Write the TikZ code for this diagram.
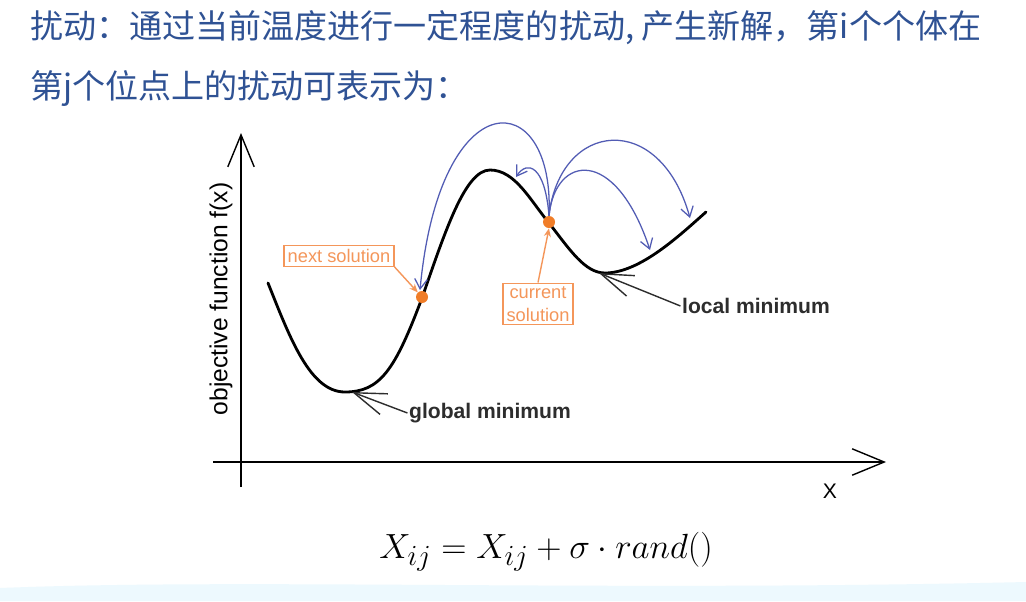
\documentclass[tikz,border=0pt]{standalone}
\usepackage{fontspec}
\setsansfont{Liberation Sans}
\newfontfamily\cjk{Noto Sans CJK SC}
\usepackage{tikz}
\usetikzlibrary{arrows.meta,positioning}
\definecolor{titleblue}{RGB}{47,82,148}
\definecolor{solorange}{RGB}{240,125,40}
\definecolor{boxorange}{RGB}{244,150,90}
\definecolor{jumpblue}{RGB}{82,92,180}
\definecolor{mingray}{RGB}{45,45,45}

\begin{document}
\begin{tikzpicture}[x=0.025cm,y=-0.025cm,
     title/.style={font=\cjk\fontsize{23.5}{28}\selectfont,text=titleblue,anchor=west,inner sep=0pt},
     axis/.style={line width=1pt,-{Straight Barb[length=0.8cm,width=0.66cm,line width=1pt]}},
     fcurve/.style={line width=2pt,line cap=round},
     dot/.style={circle,fill=solorange,inner sep=0pt,minimum size=0.3cm},
     solbox/.style={draw=boxorange,line width=1pt,text=boxorange,inner sep=2.5pt,align=center,font=\sffamily\fontsize{13}{16}\selectfont},
     solarr/.style={draw=boxorange,line width=1pt,-{Stealth[length=6pt,width=5pt]}},
     jump/.style={draw=jumpblue,line width=0.9pt,-{Straight Barb[length=7pt,width=9pt,line width=0.9pt]}},
     minlab/.style={font=\sffamily\bfseries\fontsize{15}{18}\selectfont,text=mingray,inner sep=1pt},
     minarr/.style={draw=mingray,line width=1pt,-{Straight Barb[length=0.8cm,width=0.55cm,line width=1pt]}}]
    \useasboundingbox (0,0) rectangle (1026,601);
    \fill[white] (0,0) rectangle (1026,601);
    \fill[cyan!7] (0,601) -- (0,588) .. controls (250,578) and (600,592) .. (1026,582) -- (1026,601) -- cycle;
    \node[title] (t1) at (30,28) {扰动：通过当前温度进行一定程度的扰动, 产生新解，第i个个体在};
    \node[title] (t2) at (30,88) {第j个位点上的扰动可表示为：};
    \coordinate (o)    at (241,462);
    \coordinate (ytop) at (241,133);
    \coordinate (ybot) at (241,487);
    \coordinate (xl)   at (213,462);
    \coordinate (xr)   at (886,462);
    \draw[line width=1pt] (o) -- (ybot);
    \draw[axis] (ybot) -- (ytop);
    \draw[axis] (xl) -- (xr);
    \node[font=\sffamily\fontsize{15}{18}\selectfont] (xlab) at (830,491) {X};
    \node[font=\sffamily\fontsize{17.5}{20}\selectfont,rotate=90] (ylab) at (221,299) {objective function f(x)};
    \draw[fcurve] (268,283) .. controls (290,338) and (310,392) .. (345,392)
        .. controls (380,392) and (395,370) .. (422,298)
        .. controls (445,232) and (465,170) .. (490,170)
        .. controls (515,170) and (530,200) .. (549,223)
        .. controls (570,250) and (585,273) .. (605,273)
        .. controls (640,273) and (680,235) .. (706,212);
    \node[dot] (nxt) at (422,297) {};
    \node[dot] (cur) at (549,222) {};
    \coordinate (j1) at (420,290);
    \coordinate (j2) at (516,177);
    \coordinate (j3) at (650,250);
    \coordinate (j4) at (690,218);
    \draw[jump] (cur.north) .. controls (555,85) and (440,78) .. (j1);
    \draw[jump] (cur.north) .. controls (545,165) and (527,160) .. (j2);
    \draw[jump] (cur.north) .. controls (555,155) and (615,145) .. (j3);
    \draw[jump] (cur.north) .. controls (560,120) and (660,110) .. (j4);
    \node[solbox] (nextsol) at (339,256) {next solution};
    \node[solbox] (cursol)  at (538,304) {current\\solution};
    \draw[solarr] (nextsol.south east) -- (nxt);
    \draw[solarr] (cursol.north) -- (cur.south);
    \coordinate (gmin) at (352,392);
    \coordinate (lmin) at (599,273);
    \node[minlab] (glob) at (490,413) {global minimum};
    \node[minlab] (loc)  at (756,306) {local minimum};
    \draw[minarr] (glob.west) -- (gmin);
    \draw[minarr] (loc.west) -- (lmin);
    \node[font=\fontsize{31.5}{34}\selectfont] (rule) at (546,552) {$X_{ij} = X_{ij} + \sigma\cdot rand()$};
  \end{tikzpicture}
\end{document}
